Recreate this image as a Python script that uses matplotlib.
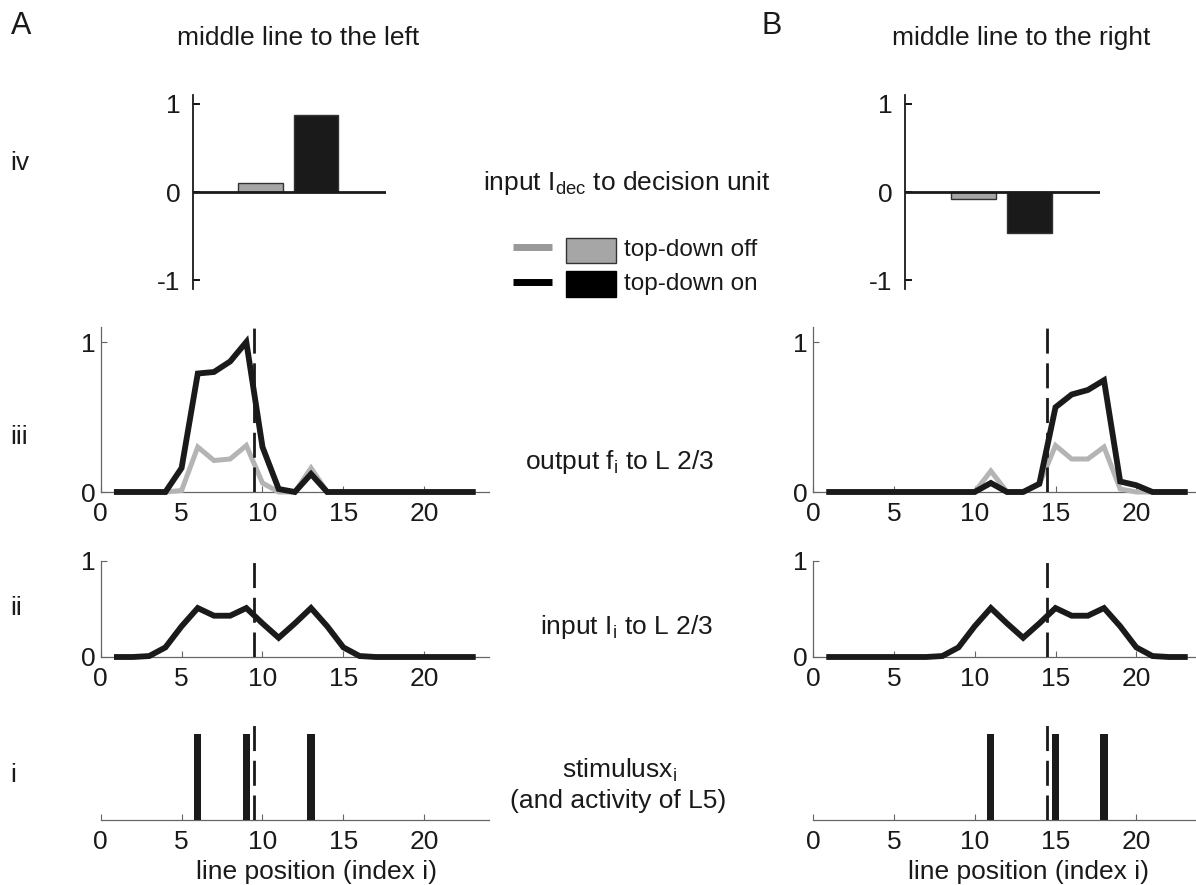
import numpy as np
import matplotlib
matplotlib.use("Agg")
import matplotlib.pyplot as plt
from matplotlib.patches import Rectangle

plt.rcParams['font.family'] = ['Liberation Sans', 'DejaVu Sans']
plt.rcParams['mathtext.fontset'] = 'custom'
plt.rcParams['mathtext.rm'] = 'Liberation Sans'
plt.rcParams['mathtext.it'] = 'Liberation Sans'
plt.rcParams['axes.unicode_minus'] = False

# data
pos = np.arange(1, 24)

out_off_left = [0, 0, 0, 0, 0.01, 0.30, 0.21, 0.22, 0.31, 0.06, 0, 0, 0.16, 0, 0, 0, 0, 0, 0, 0, 0, 0, 0]
out_on_left = [0, 0, 0, 0, 0.16, 0.79, 0.80, 0.87, 1.0, 0.30, 0.02, 0.0, 0.12, 0, 0, 0, 0, 0, 0, 0, 0, 0, 0]
out_off_right = [0, 0, 0, 0, 0, 0, 0, 0, 0, 0, 0.14, 0, 0, 0.05, 0.31, 0.22, 0.22, 0.30, 0.02, 0, 0, 0, 0]
out_on_right = [0, 0, 0, 0, 0, 0, 0, 0, 0, 0, 0.06, 0, 0, 0.055, 0.565, 0.65, 0.68, 0.745, 0.07, 0.045, 0, 0, 0]

in_left = [0, 0, 0.01, 0.10, 0.32, 0.51, 0.43, 0.43, 0.51, 0.35, 0.20, 0.35, 0.51, 0.32, 0.10, 0.01, 0, 0, 0, 0, 0, 0, 0]
in_right = [0, 0, 0, 0, 0, 0, 0, 0.01, 0.10, 0.32, 0.51, 0.35, 0.20, 0.35, 0.51, 0.43, 0.43, 0.51, 0.32, 0.10, 0.01, 0, 0]

stim_left = [6, 9, 13]
stim_right = [11, 15, 18]
mid_left = 9.5
mid_right = 14.5

dec_pos = [1, 2]
dec_left = [0.105, 0.87]
dec_right = [-0.076, -0.46]

BLACK = '#1a1a1a'
GREY = '#b4b4b4'
BAR_GREY = '#a6a6a6'
SPINE = '#666666'
FS = 19

W, H = 1196, 885
fig = plt.figure(figsize=(W / 100, H / 100), dpi=100)


def px_axes(x0, x1, ytop, ybot):
    return fig.add_axes([x0 / W, 1 - ybot / H, (x1 - x0) / W, (ybot - ytop) / H])


def style_line_axes(ax, ylim, yticks=True):
    ax.set_xlim(0, 24)
    ax.set_ylim(*ylim)
    for s in ['top', 'right']:
        ax.spines[s].set_visible(False)
    ax.spines['bottom'].set_color(SPINE)
    ax.spines['left'].set_color(SPINE)
    ax.spines['bottom'].set_linewidth(0.9)
    ax.spines['left'].set_linewidth(0.9)
    ax.set_xticks([0, 5, 10, 15, 20])
    ax.tick_params(axis='x', direction='in', length=4, width=0.8, color=SPINE,
                   labelsize=FS, pad=7, labelcolor=BLACK)
    if yticks:
        ax.set_yticks([0, 1])
        ax.tick_params(axis='y', direction='in', length=4, width=0.8, color=SPINE,
                       labelsize=FS, pad=4, labelcolor=BLACK)
    else:
        ax.spines['left'].set_visible(False)
        ax.set_yticks([])
    ax.patch.set_alpha(0)


def dashed(ax, x):
    ax.axvline(x, color=BLACK, lw=2, linestyle=(0, (9, 3.5)), zorder=5)


cols = [
    (100.7, 489.0, out_off_left, out_on_left, in_left, stim_left, mid_left, dec_left, 193, 386, 316),
    (813.0, 1201.0, out_off_right, out_on_right, in_right, stim_right, mid_right, dec_right, 905, 1100, 1029),
]

ov = fig.add_axes([0, 0, 1, 1])
ov.set_xlim(0, W)
ov.set_ylim(H, 0)
ov.axis('off')
ov.patch.set_alpha(0)

for x0, x1, off, on, inp, stim, mid, dec, bx0, bx1, xl in cols:
    # iv: input to decision unit
    ax = px_axes(bx0, bx1, 95, 289)
    ax.bar(dec_pos, dec, width=0.8, color=[BAR_GREY, BLACK], edgecolor='#333333', linewidth=1, zorder=3)
    ax.axhline(0, color=BLACK, lw=2, zorder=4)
    ax.set_xlim(-0.22, 3.26)
    ax.set_ylim(-1.1, 1.1)
    for s in ['top', 'right', 'bottom']:
        ax.spines[s].set_visible(False)
    ax.spines['left'].set_color(BLACK)
    ax.spines['left'].set_linewidth(1.3)
    ax.set_xticks([])
    ax.set_yticks([-1, 0, 1])
    ax.tick_params(axis='y', direction='in', length=5, width=1.3, labelsize=FS, pad=9, labelcolor=BLACK)
    ax.patch.set_alpha(0)

    # iii: output to L 2/3
    ax = px_axes(x0, x1, 327, 492)
    ax.plot(pos, off, color=GREY, lw=3.6, clip_on=False, solid_joinstyle='miter', zorder=3)
    ax.plot(pos, on, color=BLACK, lw=4.2, clip_on=False, solid_joinstyle='miter', zorder=4)
    dashed(ax, mid)
    style_line_axes(ax, (0, 1.1))

    # ii: input to L 2/3
    ax = px_axes(x0, x1, 561, 657)
    ax.plot(pos, inp, color=BLACK, lw=4.2, clip_on=False, solid_joinstyle='miter', zorder=4)
    dashed(ax, mid)
    style_line_axes(ax, (0, 1))

    # i: stimulus
    ax = px_axes(x0, x1, 725, 820)
    ax.bar(stim, [1] * len(stim), width=0.45, color=BLACK, zorder=3)
    dashed(ax, mid)
    style_line_axes(ax, (0, 1.1), yticks=False)
    ov.text(xl, 872, 'line position (index i)', fontsize=FS, ha='center', va='center', color=BLACK)

ov.text(21, 26, 'A', fontsize=22, ha='center', va='center', color=BLACK)
ov.text(772, 26, 'B', fontsize=22, ha='center', va='center', color=BLACK)
ov.text(177, 38, 'middle line to the left', fontsize=FS, ha='left', va='center', color=BLACK)
ov.text(1021, 38, 'middle line to the right', fontsize=FS, ha='center', va='center', color=BLACK)

for lab, y in [('iv', 163), ('iii', 437), ('ii', 608), ('i', 775)]:
    ov.text(10, y, lab, fontsize=FS, ha='left', va='center', color=BLACK)

ov.text(627, 183, r'input I$_\mathregular{dec}$ to decision unit', fontsize=FS, ha='center', va='center', color=BLACK)
ov.text(620, 462, r'output f$_\mathregular{i}$ to L 2/3', fontsize=FS, ha='center', va='center', color=BLACK)
ov.text(627, 627, r'input I$_\mathregular{i}$ to L 2/3', fontsize=FS, ha='center', va='center', color=BLACK)
ov.text(620, 770, r'stimulusx$_\mathregular{i}$', fontsize=FS, ha='center', va='center', color=BLACK)
ov.text(618, 801, '(and activity of L5)', fontsize=FS, ha='center', va='center', color=BLACK)

# legend
ov.plot([513, 552], [247, 247], color='#999999', lw=5, solid_capstyle='butt')
ov.plot([513, 552], [282, 282], color='#000000', lw=5, solid_capstyle='butt')
ov.add_patch(Rectangle((566, 238), 50, 25, facecolor=BAR_GREY, edgecolor='#333333', lw=1))
ov.add_patch(Rectangle((566, 271), 50, 26, facecolor='#000000', edgecolor='#000000', lw=1))
ov.text(624, 250, 'top-down off', fontsize=17.5, ha='left', va='center', color=BLACK)
ov.text(624, 284, 'top-down on', fontsize=17.5, ha='left', va='center', color=BLACK)

fig.savefig('out.png', dpi=100, facecolor='white')
